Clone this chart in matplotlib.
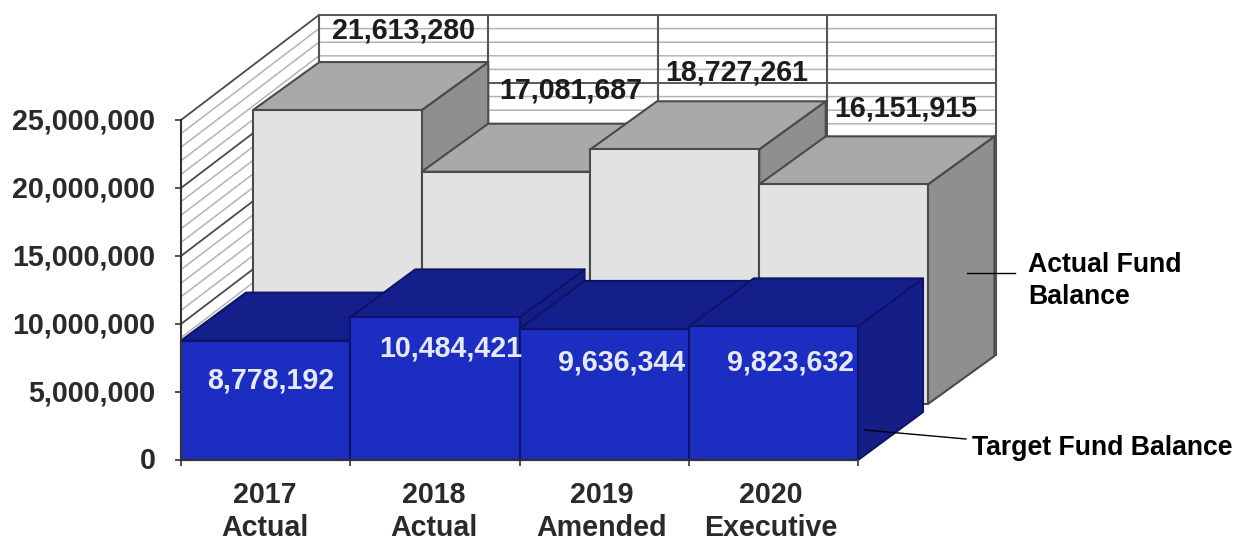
import matplotlib
matplotlib.use("Agg")
import matplotlib.pyplot as plt
from matplotlib.lines import Line2D
from matplotlib.patches import Polygon
from matplotlib.ticker import FuncFormatter, MultipleLocator, FixedLocator, FixedFormatter
from matplotlib.transforms import ScaledTranslation

plt.rcParams['font.family'] = ['Liberation Sans', 'DejaVu Sans']
plt.rcParams['font.weight'] = 'bold'

# Fund balances per budget year
categories = ["2017\nActual", "2018\nActual", "2019\nAmended", "2020\nExecutive"]
actual_balance = [21613280, 17081687, 18727261, 16151915]
target_balance = [8778192, 10484421, 9636344, 9823632]

W, H = 1241, 540
X0, X1, Y0, Y25 = 181, 858, 460, 120      # front plane of the plot, in pixels
Y_MAX = 25_000_000
PX_X = (X1 - X0) / len(categories)        # pixels per category
PX_Y = (Y0 - Y25) / Y_MAX                 # pixels per unit of value

# Depth offsets in pixels: (right, up) at the front and back of each row of bars
BLUE_DEPTH = (0, 0, 65, 48)
GREY_DEPTH = (72, 56, 138.5, 104)
WALL_DEPTH = (138, 105)
GREY_WIDTH = 0.997
LABEL_PT = 20.6

fig = plt.figure(figsize=(W / 100, H / 100), dpi=100, facecolor='white')
ax = fig.add_axes([X0 / W, 1 - Y0 / H, (X1 - X0) / W, (Y0 - Y25) / H])
ax.set_xlim(0, len(categories))
ax.set_ylim(0, Y_MAX)
ax.patch.set_visible(False)


def proj(x, v, dx_px=0, dy_px=0):
    """Shift a data point back into the oblique depth direction."""
    return x + dx_px / PX_X, v + dy_px / PX_Y


def px_to_fig(x, y):
    return x / W, 1 - y / H


def poly(points, face, edge, z, lw=1.5):
    ax.add_patch(Polygon(points, closed=True, facecolor=face, edgecolor=edge,
                         linewidth=lw, joinstyle='round', clip_on=False, zorder=z))


def line(points, color, lw, z):
    xs, ys = zip(*points)
    ax.add_line(Line2D(xs, ys, color=color, linewidth=lw, clip_on=False, zorder=z))


# Back wall and side wall
wd = WALL_DEPTH
n = len(categories)
poly([proj(0, 0), proj(0, Y_MAX), proj(0, Y_MAX, *wd), proj(0, 0, *wd)], 'white', 'none', 1)
poly([proj(0, 0, *wd), proj(0, Y_MAX, *wd), proj(n, Y_MAX, *wd), proj(n, 0, *wd)], 'white', 'none', 1)
for v in range(0, 26):
    val = v * 1_000_000
    major = v % 5 == 0
    col, lw = ('#4a4a4a', 1.3) if major else ('#b4b4b4', 1.1)
    line([proj(0, val), proj(0, val, *wd), proj(n, val, *wd)], col, lw, 2 if not major else 3)
for i in range(n + 1):
    line([proj(i, 0, *wd), proj(i, Y_MAX, *wd)], '#555555', 1.5, 3)

# Taller rear row, drawn left to right so nearer faces overlap correctly
grey_label_shift = [(0, 32), (-2, 33), (-5, 29), (-4, 28)]
z = 10
for i, (v, (sx, sy)) in enumerate(zip(actual_balance, grey_label_shift)):
    fx, fy, bx, by = GREY_DEPTH
    l, r = i * GREY_WIDTH, (i + 1) * GREY_WIDTH
    poly([proj(r, 0, fx, fy), proj(r, v, fx, fy), proj(r, v, bx, by), proj(r, 0, bx, by)],
         '#8F8F8F', '#4a4a4a', z)
    poly([proj(l, v, fx, fy), proj(r, v, fx, fy), proj(r, v, bx, by), proj(l, v, bx, by)],
         '#A9A9A9', '#4a4a4a', z + 1)
    poly([proj(l, 0, fx, fy), proj(l, v, fx, fy), proj(r, v, fx, fy), proj(r, 0, fx, fy)],
         '#E2E2E2', '#4a4a4a', z + 2)
    ax.annotate(f"{v:,}", proj((l + r) / 2, v, bx, by), xytext=(sx * 0.72, sy * 0.72),
                textcoords='offset points', ha='center', va='center', fontsize=LABEL_PT,
                color='#1c1c1c', zorder=40, annotation_clip=False)
    z += 3

# Front row
z = 50
for i, v in enumerate(target_balance):
    _, _, bx, by = BLUE_DEPTH
    l, r = i, i + 1
    poly([proj(r, 0), proj(r, v), proj(r, v, bx, by), proj(r, 0, bx, by)],
         '#141E85', '#0C1468', z)
    poly([proj(l, v), proj(r, v), proj(r, v, bx, by), proj(l, v, bx, by)],
         '#141F8C', '#0C1468', z + 1)
    poly([proj(l, 0), proj(l, v), proj(r, v), proj(r, 0)],
         '#1C2DC2', '#0C1468', z + 2)
    z += 3

# Value labels on the front row, nudged individually inside each face
blue_label_shift = [(5, -40), (16, -31), (17, -34), (17, -36)]
for i, (v, (sx, sy)) in enumerate(zip(target_balance, blue_label_shift)):
    ax.annotate(f"{v:,}", (i + 0.5, v), xytext=(sx * 0.72, sy * 0.72),
                textcoords='offset points', ha='center', va='center', fontsize=LABEL_PT,
                color='#E6EAF8', zorder=90, annotation_clip=False)

# Axes: value ticks at the left, category boundaries and names underneath
for side in ('top', 'right'):
    ax.spines[side].set_visible(False)
for side in ('left', 'bottom'):
    ax.spines[side].set_color('#333333')
    ax.spines[side].set_linewidth(1.5)
    ax.spines[side].set_zorder(95)
ax.yaxis.set_major_locator(MultipleLocator(5_000_000))
ax.yaxis.set_major_formatter(FuncFormatter(lambda v, _: f"{int(v):,}"))
ax.tick_params(axis='y', length=4.5, width=1.2, color='#333333', pad=14, labelsize=LABEL_PT,
               labelcolor='#2a2a2a')
nudge_up = ScaledTranslation(0, 2 / 100, fig.dpi_scale_trans)
for t in ax.get_yticklabels():
    t.set_transform(t.get_transform() + nudge_up)
ax.xaxis.set_major_locator(FixedLocator(list(range(n + 1))))
ax.xaxis.set_major_formatter(FixedFormatter([""] * (n + 1)))
ax.xaxis.set_minor_locator(FixedLocator([(i + 0.5) * 0.995 for i in range(n)]))
ax.xaxis.set_minor_formatter(FixedFormatter(categories))
ax.tick_params(axis='x', which='major', length=4.5, width=1.2, color='#333333')
ax.tick_params(axis='x', which='minor', length=0, pad=15, labelsize=LABEL_PT, labelcolor='#2a2a2a')
for t in ax.get_xticklabels(minor=True):
    t.set_linespacing(1.25)

# Series call-outs with leader lines
fig.add_artist(Line2D(*zip(px_to_fig(967, 273), px_to_fig(1015, 273)), color='black', linewidth=1))
fig.add_artist(Line2D(*zip(px_to_fig(865, 430), px_to_fig(966, 439)), color='black', linewidth=1))
fx, fy = px_to_fig(1028, 281)
fig.text(fx, fy, "Actual Fund\nBalance", fontsize=19.2, color='black', ha='left', va='center',
         linespacing=1.29)
fx, fy = px_to_fig(972, 448)
fig.text(fx, fy, "Target Fund Balance", fontsize=19.2, color='black', ha='left', va='center')

fig.savefig("out.png", dpi=100)
